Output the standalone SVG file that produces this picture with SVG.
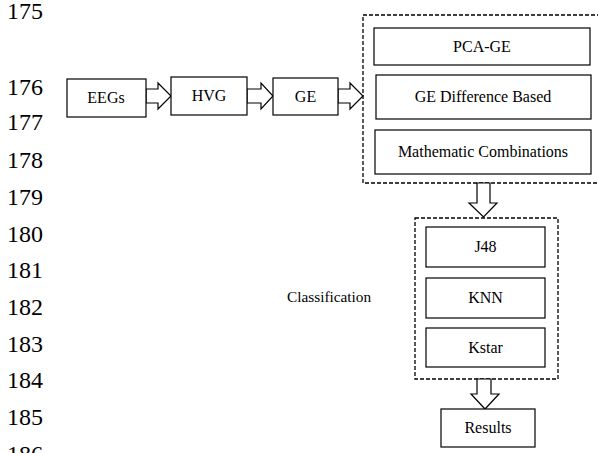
<svg xmlns="http://www.w3.org/2000/svg" width="598" height="453" viewBox="0 0 598 453">
<style>
.ln{font-family:"Liberation Serif","Tinos","Times New Roman","DejaVu Serif",serif;font-size:24px;fill:#000}
.bx{fill:#fff;stroke:#000;stroke-width:1.2}
.tx{font-family:"Liberation Serif","Tinos","Times New Roman","DejaVu Serif",serif;font-size:16px;fill:#000;text-anchor:middle}
.lbl{font-family:"Liberation Serif","Tinos","Times New Roman","DejaVu Serif",serif;font-size:15.3px;fill:#000}
.dash{fill:none;stroke:#000;stroke-width:1.3;stroke-dasharray:4 2}
.arr{fill:#fff;stroke:#000;stroke-width:1.2;stroke-linejoin:miter}
</style>
<rect width="598" height="453" fill="#fff"/>
<g id="line-numbers">
<text class="ln" x="7" y="19">175</text>
<text class="ln" x="7" y="95">176</text>
<text class="ln" x="7" y="130">177</text>
<text class="ln" x="7" y="168">178</text>
<text class="ln" x="7" y="205">179</text>
<text class="ln" x="7" y="242">180</text>
<text class="ln" x="7" y="278">181</text>
<text class="ln" x="7" y="315">182</text>
<text class="ln" x="7" y="352">183</text>
<text class="ln" x="7" y="388">184</text>
<text class="ln" x="7" y="425">185</text>
<text class="ln" x="7" y="462">186</text>
</g>
<g id="feature-group">
<rect class="dash" x="363" y="15" width="240" height="168"/>
</g>
<g id="classification-group">
<rect class="dash" x="415" y="218" width="143" height="161"/>
<text class="lbl" x="287" y="302">Classification</text>
</g>
<g id="connectors">
<polygon class="arr" points="146,89 158,89 158,83 171,96 158,109 158,103 146,103"/>
<polygon class="arr" points="247,89 261,89 261,83 273,96 261,109 261,103 247,103"/>
<polygon class="arr" points="338,89 350,89 350,83 363,96 350,109 350,103 338,103"/>
<polygon class="arr" points="477,183 490,183 490,203 497,203 483.5,217 469,203 477,203"/>
<polygon class="arr" points="477,379 491,379 491,394 499,394 485,409 471,394 477,394"/>
</g>
<g id="eegs"><rect class="bx" x="67" y="79" width="79" height="38"/><text class="tx" x="106" y="103">EEGs</text></g>
<g id="hvg"><rect class="bx" x="171" y="77" width="76" height="38"/><text class="tx" x="209" y="101">HVG</text></g>
<g id="ge"><rect class="bx" x="273" y="78" width="65" height="37"/><text class="tx" x="305.5" y="102">GE</text></g>
<g id="pca-ge"><rect class="bx" x="374" y="28" width="216" height="37"/><text class="tx" x="482" y="52">PCA-GE</text></g>
<g id="ge-diff"><rect class="bx" x="376" y="75" width="215" height="44"/><text class="tx" x="483" y="102">GE Difference Based</text></g>
<g id="math-comb"><rect class="bx" x="375" y="130" width="216" height="44"/><text class="tx" x="483" y="157">Mathematic Combinations</text></g>
<g id="j48"><rect class="bx" x="426" y="227" width="119" height="40"/><text class="tx" x="485.5" y="252">J48</text></g>
<g id="knn"><rect class="bx" x="426" y="278" width="119" height="40"/><text class="tx" x="485.5" y="303">KNN</text></g>
<g id="kstar"><rect class="bx" x="426" y="328" width="119" height="39"/><text class="tx" x="485.5" y="353">Kstar</text></g>
<g id="results"><rect class="bx" x="441" y="409" width="94" height="38"/><text class="tx" x="488" y="433">Results</text></g>
</svg>
